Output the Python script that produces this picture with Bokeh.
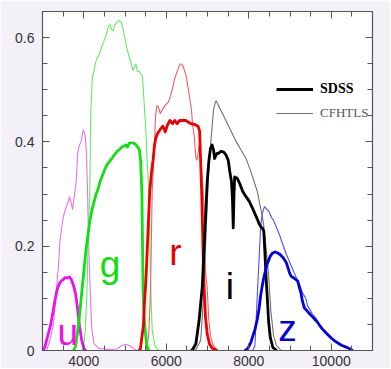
from bokeh.plotting import figure
from bokeh.models import Range1d, FixedTicker, LinearAxis, Legend, LegendItem, CustomLabelingPolicy
from bokeh.core.properties import value
from bokeh.embed import file_html
from bokeh.resources import INLINE

# ---------------- data (wavelength in Angstrom, transmission) ----------------
sdss_u_wl = [3000, 3050, 3100, 3200, 3300, 3350, 3400, 3450, 3500, 3550, 3600, 3650, 3700,
             3750, 3800, 3850, 3900, 3950, 4000, 4050]
sdss_u_tr = [0.0, 0.005, 0.02, 0.05, 0.095, 0.115, 0.127, 0.133, 0.136, 0.14, 0.139, 0.141, 0.136,
             0.125, 0.11, 0.08, 0.045, 0.02, 0.005, 0.0]

cfht_u_wl = [3100, 3180, 3266, 3320, 3384, 3423, 3501, 3541, 3600, 3659, 3730, 3776, 3817, 3854,
             3894, 3934, 3988, 4035, 4066, 4090, 4113, 4146, 4193, 4247, 4365, 4600, 4800, 4900,
             5000, 5100, 5200, 5300]
cfht_u_tr = [0.0, 0.02, 0.05, 0.10, 0.16, 0.21, 0.255, 0.267, 0.28, 0.295, 0.27, 0.299, 0.324, 0.38,
             0.394, 0.40, 0.423, 0.413, 0.375, 0.314, 0.22, 0.133, 0.044, 0.013, 0.004, 0.002, 0.003, 0.008,
             0.012, 0.01, 0.004, 0.0]

sdss_g_wl = [3750, 3800, 3850, 3900, 3950, 4000, 4050, 4100, 4150, 4200, 4250, 4300, 4350, 4400,
             4450, 4500, 4560, 4620, 4680, 4740, 4800, 4860, 4920, 4980, 5030, 5060, 5110, 5150,
             5230, 5270, 5310, 5350, 5380, 5395, 5410, 5425, 5440, 5465, 5500, 5525, 5580]
sdss_g_tr = [0.0, 0.008, 0.035, 0.07, 0.11, 0.15, 0.19, 0.22, 0.25, 0.27, 0.285, 0.30, 0.31, 0.325,
             0.335, 0.345, 0.356, 0.362, 0.368, 0.375, 0.381, 0.385, 0.39, 0.392, 0.394, 0.39, 0.398, 0.398,
             0.397, 0.394, 0.39, 0.384, 0.362, 0.33, 0.30, 0.2, 0.11, 0.06, 0.03, 0.01, 0.0]

cfht_g_wl = [3960, 4000, 4040, 4080, 4110, 4146, 4170, 4207, 4287, 4325, 4365, 4443, 4522, 4600,
             4640, 4678, 4718, 4758, 4835, 4875, 4913, 4953, 5031, 5111, 5148, 5188, 5228, 5266,
             5300, 5346, 5424, 5478, 5501, 5525, 5560, 5581, 5619, 5659, 5699, 5736, 5776, 5847]
cfht_g_tr = [0.0, 0.01, 0.04, 0.12, 0.22, 0.305, 0.457, 0.521, 0.552, 0.562, 0.565, 0.584, 0.60, 0.622,
             0.625, 0.615, 0.613, 0.625, 0.632, 0.632, 0.629, 0.616, 0.584, 0.56, 0.552, 0.537, 0.543, 0.549,
             0.535, 0.535, 0.525, 0.457, 0.43, 0.381, 0.33, 0.305, 0.13, 0.04, 0.02, 0.007, 0.003, 0.0]

sdss_r_wl = [5340, 5375, 5400, 5447, 5470, 5506, 5553, 5600, 5640, 5680, 5710, 5740, 5776, 5854,
             5918, 5950, 5972, 6000, 6028, 6089, 6153, 6207, 6264, 6325, 6405, 6482, 6546, 6600,
             6701, 6772, 6810, 6835, 6860, 6890, 6913, 6950, 6993, 7050, 7110, 7230]
sdss_r_tr = [0.0, 0.004, 0.02, 0.048, 0.09, 0.133, 0.219, 0.305, 0.34, 0.365, 0.39, 0.405, 0.414, 0.424,
             0.43, 0.425, 0.419, 0.425, 0.432, 0.441, 0.435, 0.441, 0.435, 0.441, 0.441, 0.441, 0.437, 0.435,
             0.433, 0.43, 0.42, 0.36, 0.30, 0.2, 0.13, 0.065, 0.032, 0.012, 0.005, 0.0]

cfht_r_wl = [5500, 5541, 5581, 5619, 5659, 5700, 5720, 5740, 5776, 5815, 5854, 5893, 5972, 6050,
             6130, 6200, 6287, 6340, 6405, 6482, 6560, 6610, 6640, 6680, 6700, 6720, 6745, 6775,
             6795, 6830, 6870, 6913, 6950, 6993, 7030, 7071, 7120, 7180, 7260]
cfht_r_tr = [0.0, 0.006, 0.038, 0.114, 0.305, 0.37, 0.41, 0.45, 0.47, 0.466, 0.454, 0.46, 0.47, 0.476,
             0.495, 0.52, 0.54, 0.55, 0.546, 0.527, 0.489, 0.463, 0.432, 0.41, 0.387, 0.368, 0.365, 0.38,
             0.394, 0.37, 0.33, 0.28, 0.15, 0.12, 0.06, 0.03, 0.013, 0.005, 0.0]

sdss_i_wl = [6600, 6640, 6718, 6795, 6875, 6913, 6953, 6993, 7031, 7071, 7111, 7148, 7172, 7188,
             7229, 7266, 7330, 7384, 7440, 7502, 7541, 7581, 7605, 7624, 7643, 7659, 7722, 7776,
             7854, 7934, 8012, 8090, 8146, 8207, 8247, 8287, 8325, 8365, 8390, 8420, 8450, 8482,
             8522, 8584, 8678]
sdss_i_tr = [0.0, 0.002, 0.013, 0.057, 0.124, 0.19, 0.257, 0.324, 0.362, 0.387, 0.394, 0.384, 0.368, 0.371,
             0.378, 0.378, 0.382, 0.381, 0.376, 0.365, 0.343, 0.324, 0.29, 0.235, 0.30, 0.333, 0.33, 0.321,
             0.305, 0.295, 0.286, 0.273, 0.263, 0.252, 0.244, 0.238, 0.235, 0.229, 0.19, 0.14, 0.10, 0.055,
             0.025, 0.006, 0.0]

cfht_i_wl = [6680, 6718, 6835, 6913, 6953, 6993, 7016, 7060, 7094, 7148, 7188, 7210, 7229, 7306,
             7384, 7464, 7581, 7699, 7817, 7934, 8052, 8129, 8207, 8287, 8325, 8365, 8428, 8482,
             8536, 8600, 8671, 8788]
cfht_i_tr = [0.0, 0.002, 0.019, 0.114, 0.2, 0.28, 0.324, 0.38, 0.413, 0.463, 0.475, 0.479, 0.476, 0.463,
             0.451, 0.438, 0.419, 0.40, 0.384, 0.368, 0.343, 0.324, 0.305, 0.273, 0.26, 0.238, 0.19, 0.143,
             0.076, 0.029, 0.01, 0.0]

sdss_z_wl = [7900, 7972, 8050, 8100, 8150, 8207, 8250, 8287, 8330, 8365, 8443, 8522, 8580, 8640,
             8700, 8758, 8835, 8913, 8993, 9031, 9071, 9111, 9188, 9230, 9266, 9300, 9346, 9424,
             9480, 9541, 9600, 9659, 9720, 9776, 9894, 10012, 10090, 10247, 10405, 10522]
sdss_z_tr = [0.0, 0.003, 0.015, 0.028, 0.04, 0.06, 0.08, 0.105, 0.125, 0.14, 0.165, 0.181, 0.187, 0.189,
             0.187, 0.184, 0.178, 0.168, 0.148, 0.142, 0.14, 0.138, 0.133, 0.12, 0.11, 0.095, 0.082, 0.075,
             0.07, 0.065, 0.06, 0.055, 0.048, 0.042, 0.032, 0.023, 0.018, 0.01, 0.005, 0.0]

cfht_z_wl = [8100, 8150, 8180, 8210, 8247, 8287, 8325, 8381, 8443, 8482, 8560, 8600, 8678, 8758,
             8796, 8913, 9071, 9188, 9228, 9306, 9384, 9424, 9501, 9541, 9620, 9700, 9776, 9894,
             10012, 10090, 10247, 10405, 10522]
cfht_z_tr = [0.0, 0.01, 0.06, 0.11, 0.17, 0.235, 0.262, 0.276, 0.27, 0.268, 0.254, 0.25, 0.235, 0.219,
             0.21, 0.184, 0.155, 0.133, 0.127, 0.11, 0.10, 0.086, 0.076, 0.07, 0.063, 0.05, 0.043, 0.033,
             0.024, 0.019, 0.011, 0.005, 0.0]

filter_names = ["u", "g", "r", "i", "z"]
x_ticks = [4000, 6000, 8000, 10000]
y_ticks = [0, 0.2, 0.4, 0.6]
y_tick_labels = ["0", "0.2", "0.4", "0.6"]
legend_labels = ["SDSS", "CFHTLS"]

# ---------------- styles & annotation positions ----------------
sdss_colors = ["#ee10ee", "#10e010", "#ee0000", "#000000", "#0000e0"]
cfht_colors = ["#ee70ee", "#60ee60", "#f06060", "#707070", "#5050ee"]
letter_pos_x = [3612, 4635, 6224, 7541, 8941]
letter_pos_y = [0.034, 0.164, 0.187, 0.122, 0.042]

p = figure(width=390, height=368, x_range=Range1d(3000, 11000), y_range=Range1d(0, 0.65),
           output_backend="svg", toolbar_location=None,
           min_border_left=42, min_border_right=8, min_border_top=9, min_border_bottom=18)
p.xgrid.visible = False
p.ygrid.visible = False
p.background_fill_color = "white"
p.border_fill_color = "#f3f0f8"
p.outline_line_color = "#555555"
p.outline_line_width = 1.2

minor_x = list(range(3000, 11001, 500))
minor_y = [i * 0.05 for i in range(14)]
xt = FixedTicker(ticks=x_ticks, minor_ticks=minor_x)
yt = FixedTicker(ticks=y_ticks, minor_ticks=minor_y)


def style(ax, labels):
    ax.major_tick_in = 7
    ax.major_tick_out = 0
    ax.minor_tick_in = 5
    ax.minor_tick_out = 0
    ax.axis_line_color = "#555555"
    ax.major_tick_line_color = "#555555"
    ax.minor_tick_line_color = "#555555"
    if labels:
        ax.major_label_text_font = "Liberation Sans"
        ax.major_label_text_font_size = "14px"
        ax.major_label_text_color = "#333333"
    else:
        ax.major_label_policy = CustomLabelingPolicy(
            code="return new indices.constructor(indices.size, 0)")
        ax.major_label_standoff = 0


p.xaxis.ticker = xt
p.yaxis.ticker = yt
style(p.xaxis[0], True)
style(p.yaxis[0], True)
p.xaxis.major_label_standoff = 5
p.yaxis.major_label_standoff = 8
p.yaxis.major_label_overrides = {t: l for t, l in zip(y_ticks, y_tick_labels)}

top = LinearAxis(ticker=FixedTicker(ticks=x_ticks, minor_ticks=minor_x))
style(top, False)
p.add_layout(top, "above")
right = LinearAxis(ticker=FixedTicker(ticks=y_ticks, minor_ticks=minor_y))
style(right, False)
p.add_layout(right, "right")

cfht = [(cfht_u_wl, cfht_u_tr), (cfht_g_wl, cfht_g_tr), (cfht_r_wl, cfht_r_tr),
        (cfht_i_wl, cfht_i_tr), (cfht_z_wl, cfht_z_tr)]
sdss = [(sdss_u_wl, sdss_u_tr), (sdss_g_wl, sdss_g_tr), (sdss_r_wl, sdss_r_tr),
        (sdss_i_wl, sdss_i_tr), (sdss_z_wl, sdss_z_tr)]

cf_r = []
for (wl, tr), c in zip(cfht, cfht_colors):
    cf_r.append(p.line(wl, tr, line_color=c, line_width=1.1))
sd_r = []
for (wl, tr), c in zip(sdss, sdss_colors):
    sd_r.append(p.line(wl, tr, line_color=c, line_width=2.8, line_join="round"))

p.text(x=letter_pos_x, y=letter_pos_y, text=filter_names, text_color=sdss_colors,
       text_font=value("Liberation Sans"), text_font_size="37px",
       text_align="center", text_baseline="alphabetic")

common = dict(padding=0, margin=0, spacing=0, glyph_width=37, glyph_height=14, label_height=14,
              label_standoff=7, background_fill_alpha=0, border_line_alpha=0,
              label_text_font="Liberation Serif")
leg1 = Legend(items=[LegendItem(label=legend_labels[0], renderers=[sd_r[3]])],
              location=(234, 253), label_text_font_style="bold", label_text_color="#000000",
              label_text_font_size="14px", **common)
leg2 = Legend(items=[LegendItem(label=legend_labels[1], renderers=[cf_r[3]])],
              location=(234, 229), label_text_color="#555555", label_text_font_size="13px", **common)
p.add_layout(leg1)
p.add_layout(leg2)

open("out.html", "w").write(file_html(p, INLINE))
